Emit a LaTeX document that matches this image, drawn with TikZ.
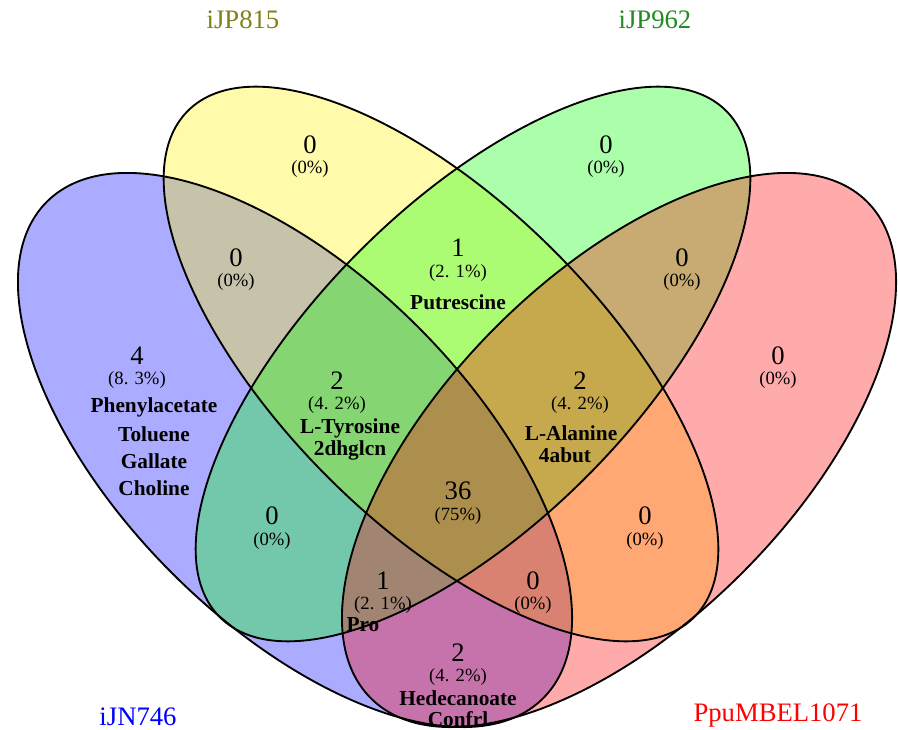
\documentclass[tikz,border=0pt]{standalone}
\usepackage{fontspec}
\setmainfont{Liberation Serif}
\usepackage{tikz}
\usetikzlibrary{positioning}
\definecolor{olivelab}{rgb}{0.5,0.5,0.1}
\definecolor{greenlab}{rgb}{0.13,0.55,0.13}
\tikzstyle{setfill}=[fill opacity=0.33]
\tikzstyle{setline}=[draw=black, line width=1.4pt]
\tikzstyle{cnt}=[%
      inner sep=0pt, font=\fontsize{20}{22}\selectfont
]
\tikzstyle{pct}=[%
      inner sep=0pt, font=\fontsize{14}{16}\selectfont
]
\tikzstyle{nm}=[%
      inner sep=0pt, font=\bfseries\fontsize{16}{18}\selectfont
]
\tikzstyle{cat}=[%
      inner sep=0pt, font=\fontsize{20}{22}\selectfont
]
\begin{document}
\begin{tikzpicture}[x=0.75pt, y=-0.75pt]
    \useasboundingbox (0,0) rectangle (898,730);

    % the four sets
    \fill[setfill, blue, rotate around={-45:(295,450)}] (295,450) ellipse [x radius=351, y radius=174];
    \fill[setfill, yellow, rotate around={-45:(441,364)}] (441,364) ellipse [x radius=358, y radius=160];
    \fill[setfill, green, rotate around={45:(473,364)}] (473,364) ellipse [x radius=358, y radius=160];
    \fill[setfill, red, rotate around={45:(619,450)}] (619,450) ellipse [x radius=351, y radius=174];
    \draw[setline, rotate around={-45:(295,450)}] (295,450) ellipse [x radius=351, y radius=174];
    \draw[setline, rotate around={-45:(441,364)}] (441,364) ellipse [x radius=358, y radius=160];
    \draw[setline, rotate around={45:(473,364)}] (473,364) ellipse [x radius=358, y radius=160];
    \draw[setline, rotate around={45:(619,450)}] (619,450) ellipse [x radius=351, y radius=174];

    % category labels
    \node[cat, text=olivelab] (catJP815) at (243,20) {iJP815};
    \node[cat, text=greenlab] (catJP962) at (655,20) {iJP962};
    \node[cat, text=blue]     (catJN746) at (138,717) {iJN746};
    \node[cat, text=red]      (catMBEL)  at (778,715) {PpuMBEL1071};

    % single sets
    \node[cnt] (n2)  at (310,145) {0};
    \node[pct] (p2)  at (310,169) {(0\%)};
    \node[cnt] (n3)  at (606,145) {0};
    \node[pct] (p3)  at (606,169) {(0\%)};
    \node[cnt] (n1)  at (137,356) {4};
    \node[pct] (p1)  at (137,380) {(8. 3\%)};
    \node[nm]  (m1a) at (154,407) {Phenylacetate};
    \node[nm]  (m1b) at (154,434) {Toluene};
    \node[nm]  (m1c) at (154,461) {Gallate};
    \node[nm]  (m1d) at (154,488) {Choline};
    \node[cnt] (n4)  at (778,356) {0};
    \node[pct] (p4)  at (778,380) {(0\%)};

    % pairs
    \node[cnt] (n12) at (236,258) {0};
    \node[pct] (p12) at (236,282) {(0\%)};
    \node[cnt] (n34) at (682,258) {0};
    \node[pct] (p34) at (682,282) {(0\%)};
    \node[cnt] (n23) at (458,248) {1};
    \node[pct] (p23) at (458,273) {(2. 1\%)};
    \node[nm]  (m23) at (458,302) {Putrescine};
    \node[cnt] (n13) at (272,516) {0};
    \node[pct] (p13) at (272,541) {(0\%)};
    \node[cnt] (n24) at (645,516) {0};
    \node[pct] (p24) at (645,541) {(0\%)};
    \node[cnt] (n14) at (458,653) {2};
    \node[pct] (p14) at (458,677) {(4. 2\%)};
    \node[nm]  (m14a) at (458,698) {Hedecanoate};
    \node[nm]  (m14b) at (458,719) {Confrl};

    % triples
    \node[cnt] (n123) at (337,381) {2};
    \node[pct] (p123) at (337,405) {(4. 2\%)};
    \node[nm]  (m123a) at (350,428) {L-Tyrosine};
    \node[nm]  (m123b) at (350,450) {2dhglcn};
    \node[cnt] (n234) at (580,381) {2};
    \node[pct] (p234) at (580,405) {(4. 2\%)};
    \node[nm]  (m234a) at (571,433) {L-Alanine};
    \node[nm]  (m234b) at (565,455) {4abut};
    \node[cnt] (n134) at (383,581) {1};
    \node[pct] (p134) at (383,605) {(2. 1\%)};
    \node[nm]  (m134) at (363,625) {Pro};
    \node[cnt] (n124) at (533,581) {0};
    \node[pct] (p124) at (533,605) {(0\%)};

    % all four
    \node[cnt] (n1234) at (458,491) {36};
    \node[pct] (p1234) at (458,516) {(75\%)};
\end{tikzpicture}
\end{document}
